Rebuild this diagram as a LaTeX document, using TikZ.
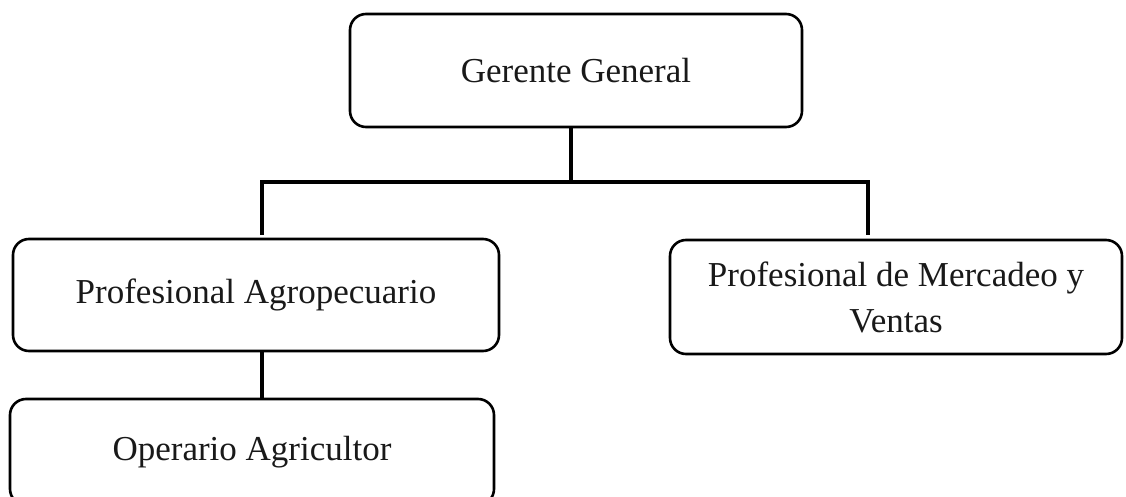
\documentclass[tikz,border=0pt]{standalone}
\usepackage{fontspec}
\setmainfont{Liberation Serif}
\begin{document}
\begin{tikzpicture}[x=1pt,y=-1pt,
  orgbox/.style={draw=black, line width=2.6pt, rounded corners=16pt, inner sep=0pt,
    align=center, font=\fontsize{35}{46}\selectfont, text=black!90},
  link/.style={draw=black, line width=4.5pt}]
\useasboundingbox (0,0) rectangle (1126,497);
\node[orgbox, minimum width=452pt, minimum height=113pt] (g) at (576,70.5) {Gerente General};
\node[orgbox, minimum width=486pt, minimum height=112pt] (a) at (256,295) {Profesional Agropecuario};
\node[orgbox, minimum width=452pt, minimum height=114pt] (m) at (896,297) {Profesional de Mercadeo y\\Ventas};
\node[orgbox, minimum width=484pt, minimum height=106pt] (o) at (252,452) {Operario Agricultor};
\coordinate (j) at (571,182);
\coordinate (jl) at (262,182);
\coordinate (jr) at (868,182);
\coordinate (el) at (262,233);
\coordinate (er) at (868,233);
\draw[link] (g.south -| j) -- (j);
\draw[link, line cap=rect] (el) -- (jl) -- (jr) -- (er);
\draw[link] (a.south -| el) -- (o.north -| el);
\end{tikzpicture}
\end{document}
